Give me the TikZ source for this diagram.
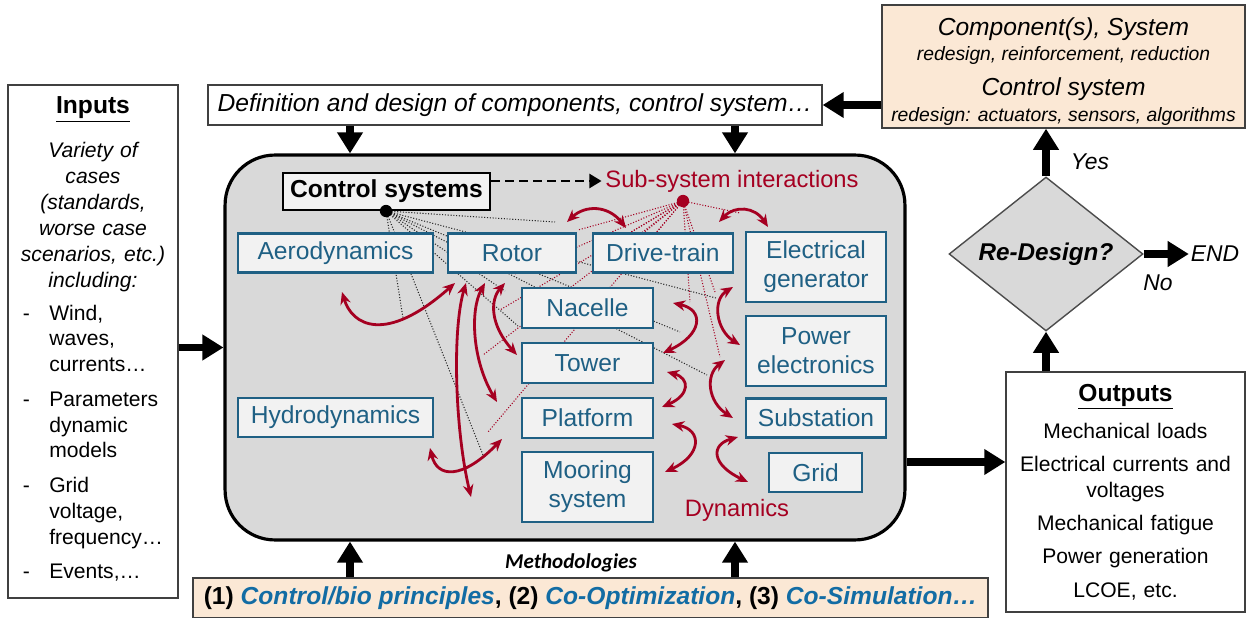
\documentclass[tikz,border=0pt]{standalone}
\usepackage{fontspec}
\setmainfont{Liberation Sans}
\newfontfamily\calfont{Carlito}
\usetikzlibrary{arrows.meta, shapes.geometric, positioning}

\definecolor{boxblue}{RGB}{31,96,132}
\definecolor{methblue}{RGB}{18,108,164}
\definecolor{dred}{RGB}{165,0,33}
\definecolor{panelgray}{RGB}{217,217,217}
\definecolor{boxgray}{RGB}{242,242,242}
\definecolor{peach}{RGB}{251,232,213}

\tikzstyle{every picture} = [x=0.02cm, y=-0.02cm, node distance=0.254cm]
\tikzstyle{subbox} = [draw=boxblue, line width=1.3pt, fill=boxgray, text=boxblue, align=center, inner sep=0pt, minimum height=0.78cm, font=\fontsize{14}{16.5}\selectfont]
\tikzstyle{plainbox} = [draw=black!75, line width=0.8pt, align=center, inner sep=0pt]
\tikzstyle{flowarrow} = [line width=4.3pt, -{Triangle[length=12pt,width=14pt]}]
\tikzstyle{dynarrow} = [dred, line width=1.6pt, {Stealth[length=7pt,width=6pt]}-{Stealth[length=7pt,width=6pt]}]
\tikzstyle{ctrllink} = [black!85, densely dotted, line width=0.6pt]
\tikzstyle{sublink} = [dred, densely dotted, line width=0.6pt]
\tikzstyle{flowlabel} = [inner sep=1pt, font=\fontsize{13}{15}\selectfont\itshape]

\begin{document}
\begin{tikzpicture}
\useasboundingbox (0,0) rectangle (1250,618);

% simulation panel
\node (panel) [draw, line width=1.8pt, fill=panelgray, rounded corners=1cm, minimum width=13.6cm, minimum height=7.7cm] at (565,347.5) {};

% hub links, under the boxes
\coordinate (cdot) at (386,211);
\coordinate (rdot) at (683,201);
\coordinate (c1) at (555,222);
\coordinate (c2) at (716,298);
\coordinate (c3) at (707,375);
\coordinate (c4) at (680,332);
\coordinate (c5) at (483,455);
\coordinate (c6) at (403,318);
\coordinate (c7) at (518,326);
\coordinate (c8) at (505,291);
\coordinate (r1) at (500,310);
\coordinate (r2) at (483,355);
\coordinate (r3) at (488,432);
\coordinate (r4) at (578,230);
\coordinate (r5) at (628,234);
\coordinate (r6) at (642,234);
\coordinate (r7) at (655,234);
\coordinate (r8) at (690,302);
\coordinate (r9) at (720,357);
\coordinate (r10) at (715,292);
\coordinate (r11) at (740,213);
\coordinate (r12) at (515,274);
\foreach \i in {1,...,8} \draw[ctrllink] (cdot) -- (c\i);
\foreach \i in {1,...,12} \draw[sublink] (rdot) -- (r\i);

% sub-systems
\node (ctrl) [draw, line width=1.2pt, fill=boxgray, inner sep=0pt, minimum width=4.14cm, minimum height=0.74cm, font=\fontsize{14}{16}\selectfont\bfseries] at (386.5,191.5) {Control systems};
\node (subsys) [text=dred, inner sep=2pt, font=\fontsize{13.5}{16}\selectfont] at (732,181) {Sub-system interactions};
\node (aero) [subbox, minimum width=3.9cm] at (335.5,253) {Aerodynamics};
\node (rotor) [subbox, minimum width=2.56cm, right=of aero] {Rotor};
\node (drive) [subbox, minimum width=2.8cm, right=0.294cm of rotor] {Drive-train};
\node (gen) [subbox, minimum width=2.8cm, minimum height=1.4cm] at (816,267) {Electrical\\generator};
\node (nacelle) [subbox, minimum width=2.62cm, minimum height=0.8cm] at (587.5,308) {Nacelle};
\node (tower) [subbox, minimum width=2.62cm, minimum height=0.8cm, below=of nacelle] {Tower};
\node (platform) [subbox, minimum width=2.62cm, minimum height=0.8cm, below=of tower] {Platform};
\node (mooring) [subbox, minimum width=2.62cm, minimum height=1.4cm, below=0.234cm of platform] {Mooring\\system};
\node (power) [subbox, minimum width=2.8cm, minimum height=1.4cm] at (816,351) {Power\\electronics};
\node (hydro) [subbox, minimum width=3.9cm] at (335.5,417.5) {Hydrodynamics};
\node (substation) [subbox, minimum width=2.8cm] at (816,418) {Substation};
\node (grid) [subbox, minimum width=1.86cm] at (815.5,472.5) {Grid};
\node (dyntext) [text=dred, font=\fontsize{13.5}{16}\selectfont] at (737,510) {Dynamics};

\fill (cdot) circle (3.5pt);
\fill[dred] (rdot) circle (3.5pt);
\draw[line width=1.5pt, dash pattern=on 5pt off 3pt, -{Triangle[length=7pt,width=8pt]}] (ctrl.east |- subsys) -- (subsys.west);

% dynamic couplings
\foreach \s/\p/\q/\e [count=\k] in {
  {342,292}/{352,325}/{385,345}/{455,283},
  {466,283}/{452,330}/{455,430}/{471,497},
  {485,283}/{470,310}/{472,360}/{497,402},
  {505,283}/{490,300}/{490,325}/{517,355},
  {430,448}/{437,478}/{462,480}/{502,439},
  {567,222}/{585,205}/{608,205}/{626,228},
  {719,222}/{735,205}/{755,207}/{768,227},
  {673,303}/{705,310}/{702,335}/{663,353},
  {733,287}/{712,300}/{716,330}/{740,345},
  {667,372}/{690,378}/{690,395}/{662,407},
  {725,360}/{705,375}/{708,402}/{733,418},
  {672,424}/{702,430}/{702,455}/{665,472},
  {738,437}/{710,445}/{712,465}/{748,482}}
{
  \coordinate (dyn\k a) at (\s);
  \coordinate (dyn\k b) at (\e);
  \draw[dynarrow] (dyn\k a) .. controls (\p) and (\q) .. (dyn\k b);
}

% surrounding flow
\node (inputs) [plainbox, minimum width=3.4cm, minimum height=10.26cm, text width=3cm, font=\fontsize{12}{14.7}\selectfont] at (93,341.5) {
{\fontsize{14}{16}\selectfont\bfseries\underline{Inputs}}\\[10.7pt]
{\itshape Variety of\\cases\\(standards,\\worse case\\scenarios, etc.)\\including:}\\[5pt]
\begin{tabular}{@{}l@{\hspace{11pt}}l@{}}
- & Wind,\\ & waves,\\ & currents…\\[5pt]
- & Parameters\\ & dynamic\\ & models\\[5pt]
- & Grid\\ & voltage,\\ & frequency…\\[5pt]
- & Events,…
\end{tabular}};
\node (design) [plainbox, fill=white, minimum width=12.28cm, minimum height=0.8cm, font=\fontsize{14}{16}\selectfont\itshape] at (515,105) {Definition and design of components, control system…};
\node (comp) [plainbox, fill=peach, minimum width=7.26cm, minimum height=2.46cm, font=\fontsize{11}{14.5}\selectfont\itshape] at (1063.5,66.5) {
\rule{0pt}{15.5pt}{\fontsize{14}{16}\selectfont Component(s), System}\\
redesign, reinforcement, reduction\\[5.5pt]
{\fontsize{14}{16}\selectfont Control system}\\
redesign: actuators, sensors, algorithms};
\node (redesign) [diamond, aspect=1.26, draw=black!70, line width=0.8pt, fill=panelgray, minimum width=3.88cm, minimum height=3.08cm, inner sep=0pt, font=\fontsize{13.8}{16}\selectfont\bfseries\itshape] at (1046,254) {Re-Design?};
\node (outputs) [plainbox, minimum width=4.78cm, minimum height=4.8cm, text width=4.5cm, font=\fontsize{12}{14.7}\selectfont] at (1125.5,492) {
{\fontsize{14}{16}\selectfont\bfseries\underline{Outputs}}\\[6.3pt]
Mechanical loads\\[4.3pt]
Electrical currents and\\voltages\\[4.3pt]
Mechanical fatigue\\[4.3pt]
Power generation\\[4.3pt]
LCOE, etc.};
\node (methods) [plainbox, fill=peach, minimum width=15.9cm, minimum height=0.8cm, font=\fontsize{14}{16}\selectfont\bfseries] at (590.5,598) {(1) \textcolor{methblue}{\itshape Control/bio principles}, (2) \textcolor{methblue}{\itshape Co-Optimization}, (3) \textcolor{methblue}{\itshape Co-Simulation…}};
\node (methlabel) [font=\calfont\fontsize{12}{14}\selectfont\bfseries\itshape] at (571,563) {Methodologies};
\node (yes) [flowlabel] at (1090,162) {Yes};
\node (no) [flowlabel] at (1158,283) {No};
\node (finish) [flowlabel] at (1215,254) {END};

\coordinate (xl) at (350,0);
\coordinate (xr) at (735,0);
\coordinate (yo) at (0,462);
\draw[flowarrow] (design.south -| xl) -- (panel.north -| xl);
\draw[flowarrow] (design.south -| xr) -- (panel.north -| xr);
\draw[flowarrow] (methods.north -| xl) -- (panel.south -| xl);
\draw[flowarrow] (methods.north -| xr) -- (panel.south -| xr);
\draw[flowarrow] (inputs.east |- panel.west) -- (panel.west);
\draw[flowarrow] (panel.east |- yo) -- (outputs.west |- yo);
\draw[flowarrow] (outputs.north -| redesign) -- (redesign.south);
\draw[flowarrow] (redesign.north) -- (comp.south -| redesign);
\draw[flowarrow] (redesign.east) -- (finish.west);
\draw[flowarrow] (comp.west |- design.east) -- (design.east);
\end{tikzpicture}
\end{document}
